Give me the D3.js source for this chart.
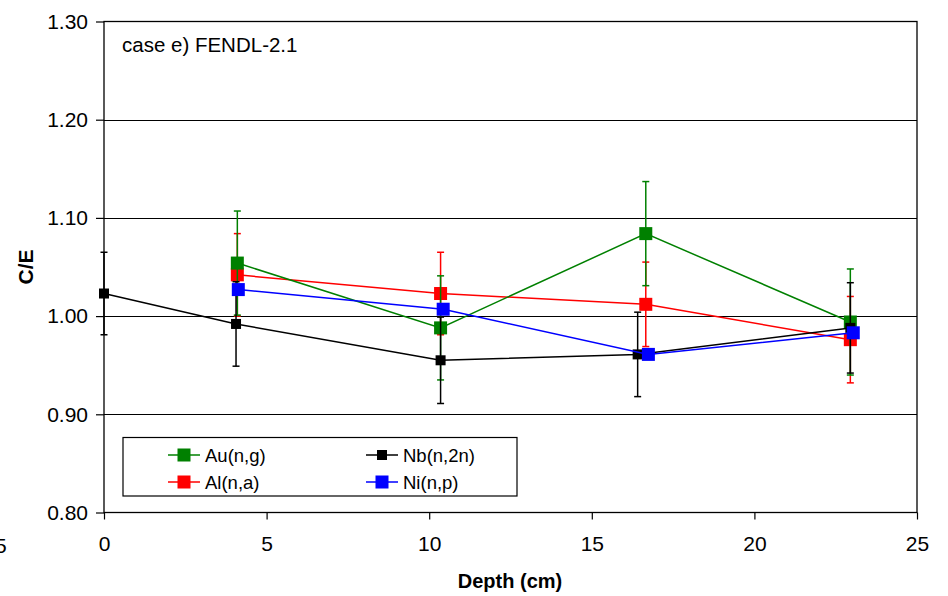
<!DOCTYPE html>
<html><head><meta charset="utf-8">
<script src="https://cdn.jsdelivr.net/npm/d3@7"></script>
<style>body{margin:0;background:#fff}svg{display:block;font-family:"Liberation Sans",Arial,sans-serif}</style>
</head><body><svg id="c" width="948" height="596"></svg>
<script>
const xTicks=[0,5,10,15,20,25];
const yTicks=[0.80,0.90,1.00,1.10,1.20,1.30];
const auX=[4.1,10.35,16.66,22.95], auY=[1.054,0.988,1.084,0.994], auE=[0.053,0.053,0.053,0.054];
const alX=[4.1,10.35,16.66,22.95], alY=[1.042,1.023,1.012,0.976], alE=[0.042,0.042,0.043,0.044];
const nbX=[0,4.06,10.35,16.41,22.95], nbY=[1.023,0.992,0.955,0.961,0.988], nbE=[0.042,0.043,0.044,0.043,0.046];
const niX=[4.13,10.43,16.74,23.04], niY=[1.027,1.007,0.961,0.983], niE=[0,0,0,0];
const seriesNames=["Al(n,a)","Au(n,g)","Nb(n,2n)","Ni(n,p)"];
const seriesColors=["#ff0000","#008000","#000000","#0000ff"];

const svg=d3.select("#c");
const L=104,R=917,T=21.5,B=512.5;
const x=d3.scaleLinear().domain([0,25]).range([L,R]);
const y=d3.scaleLinear().domain([0.8,1.3]).range([B,T]);

// gridlines
svg.append("g").selectAll("line").data(yTicks.slice(1,5)).join("line")
 .attr("x1",L).attr("x2",R).attr("y1",d=>Math.round(y(d))+0.5).attr("y2",d=>Math.round(y(d))+0.5)
 .attr("stroke","#000").attr("stroke-width",1);
// border
svg.append("rect").attr("x",L).attr("y",T).attr("width",R-L).attr("height",B-T)
 .attr("fill","none").attr("stroke","#000").attr("stroke-width",1.3);

const yAx=svg.append("g").attr("transform",`translate(${L},0)`)
 .call(d3.axisLeft(y).tickValues(yTicks).tickFormat(d3.format(".2f")).tickSize(8).tickPadding(8));
const xAx=svg.append("g").attr("transform",`translate(0,${B})`)
 .call(d3.axisBottom(x).tickValues(xTicks).tickFormat(d3.format("d")).tickSize(7).tickPadding(17));
[yAx,xAx].forEach(g=>{g.select(".domain").remove();
 g.selectAll("line").attr("stroke","#000").attr("stroke-width",1.2);
 g.selectAll("text").attr("font-size",21).attr("fill","#000").attr("font-family","Liberation Sans, Arial, sans-serif");});
// clipped "-5" label remnant at left edge
svg.append("text").attr("x",-5).attr("y",B+40).attr("font-size",21).text("5");

const sets=[
 {n:"Al(n,a)",c:"#ff0000",X:alX,Y:alY,E:alE,s:13},
 {n:"Au(n,g)",c:"#008000",X:auX,Y:auY,E:auE,s:13},
 {n:"Nb(n,2n)",c:"#000000",X:nbX,Y:nbY,E:nbE,s:10},
 {n:"Ni(n,p)",c:"#0000ff",X:niX,Y:niY,E:niE,s:13}];
const line=d3.line().x(d=>x(d[0])).y(d=>y(d[1]));
sets.forEach(S=>{
 const pts=S.X.map((v,i)=>[v,S.Y[i],S.E[i]]);
 const g=svg.append("g");
 g.append("path").attr("d",line(pts)).attr("fill","none").attr("stroke",S.c).attr("stroke-width",1.5);
 pts.filter(p=>p[2]>0).forEach(p=>{
  const cx=x(p[0]);
  g.append("line").attr("x1",cx).attr("x2",cx).attr("y1",y(p[1]-p[2])).attr("y2",y(p[1]+p[2])).attr("stroke",S.c).attr("stroke-width",1.5);
  [p[1]-p[2],p[1]+p[2]].forEach(v=>g.append("line").attr("x1",cx-3.5).attr("x2",cx+3.5).attr("y1",y(v)).attr("y2",y(v)).attr("stroke",S.c).attr("stroke-width",1.5));
 });
 g.selectAll("rect").data(pts).join("rect").attr("x",d=>x(d[0])-S.s/2).attr("y",d=>y(d[1])-S.s/2)
  .attr("width",S.s).attr("height",S.s).attr("fill",S.c);
});

svg.append("text").attr("x",122).attr("y",52).attr("font-size",20.5).text("case e) FENDL-2.1");

// legend
const lg=svg.append("g");
lg.append("rect").attr("x",123).attr("y",437.5).attr("width",394).attr("height",58.5).attr("fill","#fff").attr("stroke","#000").attr("stroke-width",1.2);
const legItems=[["Au(n,g)","#008000",168,455,13],["Nb(n,2n)","#000000",366,455,10],["Al(n,a)","#ff0000",168,482,13],["Ni(n,p)","#0000ff",366,482,13]];
legItems.forEach(([n,c,lx,ly,s])=>{
 lg.append("line").attr("x1",lx).attr("x2",lx+32).attr("y1",ly).attr("y2",ly).attr("stroke",c).attr("stroke-width",1.5);
 lg.append("rect").attr("x",lx+16-s/2).attr("y",ly-s/2).attr("width",s).attr("height",s).attr("fill",c);
 lg.append("text").attr("x",lx+37).attr("y",ly+6.5).attr("font-size",18.5).text(n);
});

svg.append("text").attr("transform","translate(33,267) rotate(-90)").attr("text-anchor","middle")
 .attr("font-size",21).attr("font-weight","bold").text("C/E");
svg.append("text").attr("x",510).attr("y",588).attr("text-anchor","middle")
 .attr("font-size",20).attr("font-weight","bold").text("Depth (cm)");
</script></body></html>
